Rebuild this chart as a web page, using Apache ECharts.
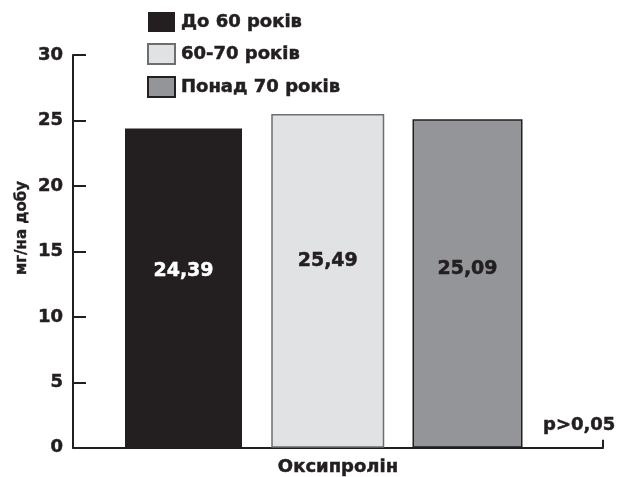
<!DOCTYPE html>
<html>
<head>
<meta charset="utf-8">
<script src="https://cdn.jsdelivr.net/npm/echarts@6/dist/echarts.min.js"></script>
<style>
html,body{margin:0;padding:0;background:#fff;}
#chart{width:622px;height:477px;}
</style>
</head>
<body>
<div id="chart"></div>
<script>
const categories = ['Оксипролін'];
const seriesNames = ['До 60 років', '60-70 років', 'Понад 70 років'];
const values = [24.39, 25.49, 25.09];
const yAxisTitle = 'мг/на добу';
const note = 'p>0,05';

const FONT = '"DejaVu Sans", "Liberation Sans", Arial, sans-serif';
const INK = '#231f20';
const fills = ['#231f20', '#e1e2e4', '#939598'];
const borders = ['#231f20', '#6d6e71', '#231f20'];
const borderWidths = [0, 1.5, 1.5];
const widths = [117, 113, 110];
const labelColors = ['#ffffff', INK, INK];
const labelOffsets = [143, 147, 150];
const HEAVY = {textBorderColor: INK, textBorderWidth: 0.5};

const chart = echarts.init(document.getElementById('chart'), null, {renderer: 'canvas'});

const series = seriesNames.map((name, i) => ({
  name: name,
  type: 'bar',
  data: [values[i]],
  barWidth: widths[i],
  barGap: '25%',
  itemStyle: {color: fills[i], borderColor: borders[i], borderWidth: borderWidths[i]},
  label: {
    show: true,
    position: ['50%', labelOffsets[i]],
    align: 'center',
    verticalAlign: 'middle',
    fontFamily: FONT,
    fontWeight: 'bold',
    fontSize: 19,
    color: labelColors[i],
    textBorderColor: labelColors[i],
    textBorderWidth: 0.5,
    formatter: p => p.value.toFixed(2).replace('.', ',')
  },
  emphasis: {disabled: true},
  animation: false
}));
// layout spacer so the group of bars sits as in the original
series.push({
  name: 'spacer',
  type: 'bar',
  data: [null],
  barWidth: 1,
  barGap: '25%',
  silent: true,
  itemStyle: {color: 'rgba(0,0,0,0)'},
  animation: false
});

chart.setOption({
  animation: false,
  grid: {left: 73, right: 19, top: 55, bottom: 27, containLabel: false},
  legend: {
    data: seriesNames,
    orient: 'vertical',
    left: 142,
    top: 7,
    icon: 'rect',
    itemWidth: 27,
    itemHeight: 20,
    itemGap: 11,
    textStyle: Object.assign({fontFamily: FONT, fontWeight: 'bold', fontSize: 18, color: INK, padding: [0, 0, 0, 1]}, HEAVY),
    selectedMode: false
  },
  xAxis: {
    type: 'category',
    data: categories,
    axisLine: {lineStyle: {color: INK, width: 2}},
    axisTick: {show: true, inside: true, length: 8, lineStyle: {color: INK, width: 2}},
    axisLabel: Object.assign({fontFamily: FONT, fontWeight: 'bold', fontSize: 18, color: INK, margin: 11}, HEAVY)
  },
  yAxis: {
    type: 'value',
    min: 0,
    max: 30,
    interval: 5,
    splitLine: {show: false},
    axisLine: {show: true, lineStyle: {color: INK, width: 2}},
    axisTick: {show: true, inside: true, length: 13, lineStyle: {color: INK, width: 2}},
    axisLabel: Object.assign({fontFamily: FONT, fontWeight: 'bold', fontSize: 18, color: INK, margin: 10, padding: [4, 0, 0, 0]}, HEAVY)
  },
  graphic: [
    {
      type: 'text',
      x: 22,
      y: 228,
      rotation: Math.PI / 2,
      style: {text: yAxisTitle, fontFamily: FONT, fontWeight: 'bold', fontSize: 15, fill: INK, stroke: INK, lineWidth: 0.4, align: 'center', verticalAlign: 'middle'}
    },
    {
      type: 'text',
      x: 543,
      y: 425,
      style: {text: note, fontFamily: FONT, fontWeight: 'bold', fontSize: 18, fill: INK, stroke: INK, lineWidth: 0.5, align: 'left', verticalAlign: 'middle'}
    }
  ],
  series: series
});
</script>
</body>
</html>
